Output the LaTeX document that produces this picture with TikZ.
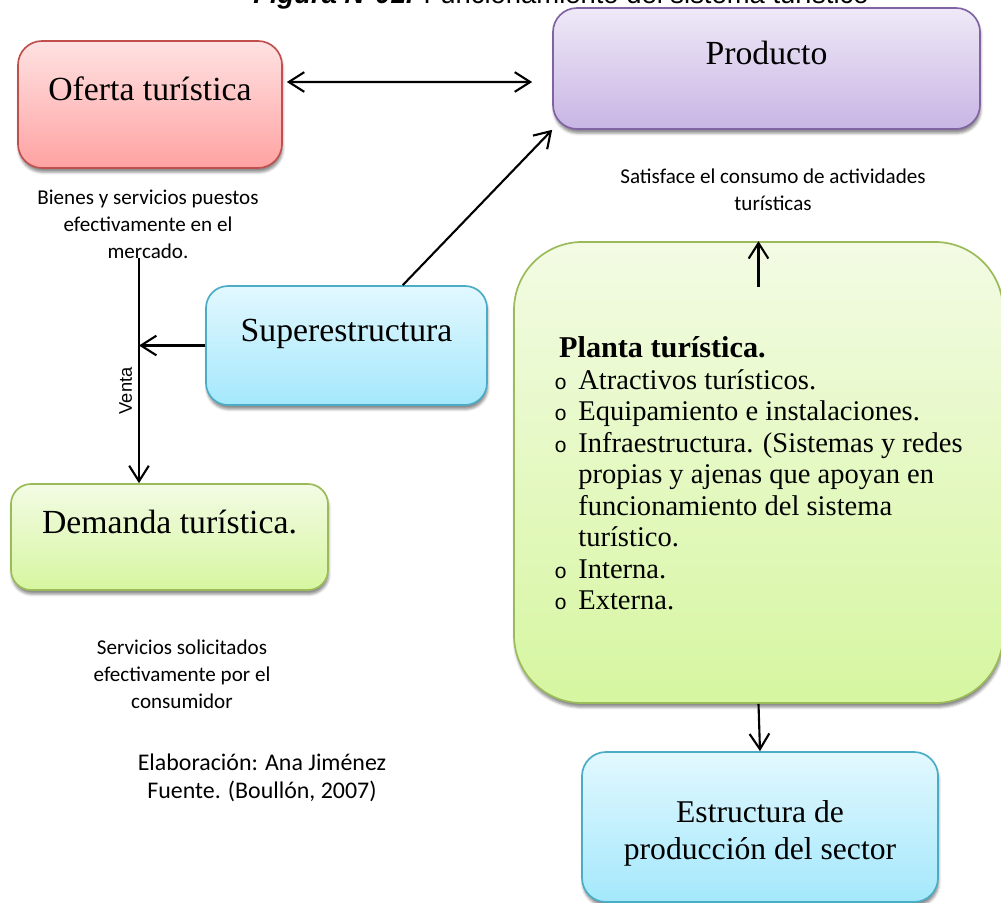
\documentclass[tikz,border=0pt]{standalone}
\usepackage{fontspec}
\setmainfont{Liberation Serif}
\setmonofont{Liberation Mono}
\newfontfamily\calibri{Carlito}
\newfontfamily\arial{Liberation Sans}
\usepackage{xcolor}
\usetikzlibrary{arrows.meta,calc,shadows.blur}

\definecolor{rojoborde}{RGB}{192,80,77}
\definecolor{rojoarriba}{RGB}{255,226,226}
\definecolor{rojoabajo}{RGB}{255,162,162}
\definecolor{moradoborde}{RGB}{128,100,162}
\definecolor{moradoarriba}{RGB}{239,233,247}
\definecolor{moradoabajo}{RGB}{200,181,228}
\definecolor{azulborde}{RGB}{75,172,198}
\definecolor{azularriba}{RGB}{226,248,254}
\definecolor{azulabajo}{RGB}{164,232,252}
\definecolor{verdeborde}{RGB}{155,187,89}
\definecolor{verdearriba}{RGB}{243,251,228}
\definecolor{verdeabajo}{RGB}{214,246,160}

\newcommand{\vineta}{{\ttfamily\fontsize{15}{15}\selectfont o}}

\tikzset{
	caja/.style={
			rectangle, rounded corners=0.6cm, line width=1.2pt, inner sep=0pt,
			align=center, font=\fontsize{24}{28}\selectfont,
			blur shadow={shadow xshift=0.6pt, shadow yshift=-3pt, shadow opacity=45}
		},
	arriba/.style={text height=0.65cm, text depth=0.85cm},
	roja/.style={caja, draw=rojoborde, top color=rojoarriba, bottom color=rojoabajo},
	morada/.style={caja, draw=moradoborde, top color=moradoarriba, bottom color=moradoabajo},
	azul/.style={caja, draw=azulborde, top color=azularriba, bottom color=azulabajo},
	verde/.style={caja, draw=verdeborde, top color=verdearriba, bottom color=verdeabajo},
	nota/.style={align=center, inner sep=0pt, font=\calibri\fontsize{15}{19.2}\selectfont},
	flecha/.style={line width=1.5pt, ->}
}

\begin{document}
\begin{tikzpicture}[>={Straight Barb[length=11pt,width=14pt]}]
		\useasboundingbox (0,0) rectangle (25.025,-22.575);
		% Title (cut at the top)
		\node[anchor=base west, inner sep=0pt, font=\arial\fontsize{19.5}{22}\selectfont] (titulo) at (6.325,-0.1)
		{\textbf{\textit{Figura N°01.}} Funcionamiento del sistema turístico};
		% Boxes
		\node[roja, arriba, minimum width=6.6cm, minimum height=3.175cm] (oferta) at (3.75,-2.6125) {Oferta turística};
		\node[morada, arriba, minimum width=10.675cm, minimum height=3.025cm] (producto) at (19.1625,-1.7125) {Producto};
		\node[azul, arriba, rounded corners=0.55cm, minimum width=7.025cm, minimum height=2.975cm] (super) at (8.6625,-8.6375) {Superestructura};
		\node[verde, arriba, rounded corners=0.5cm, minimum width=7.925cm, minimum height=2.65cm] (demanda) at (4.2375,-13.425) {Demanda turística.};
		\node[verde, rounded corners=1.7cm, minimum width=12.225cm, minimum height=11.525cm, font=\fontsize{20.3}{22.4}\selectfont] (planta) at (18.9625,-11.8125)
		{\begin{tabular}{@{}p{0.6cm}@{}l@{}}
				\multicolumn{2}{@{\hspace{0.12cm}}l@{}}{\rule{0pt}{0.8cm}\fontsize{21.5}{22.4}\selectfont\textbf{Planta turística.}} \\
				\vineta & Atractivos turísticos.                                                              \\
				\vineta & Equipamiento e instalaciones.                                                       \\
				\vineta & Infraestructura. (Sistemas y redes                                                  \\
				        & propias y ajenas que apoyan en                                                      \\
				        & funcionamiento del sistema                                                          \\
				        & turístico.                                                                          \\
				\vineta & Interna.                                                                            \\
				\vineta & Externa.
			\end{tabular}};
		\node[azul, minimum width=8.9cm, minimum height=3.75cm, font=\fontsize{22.5}{26.5}\selectfont] (estructura) at (19,-20.675)
		{\rule{0pt}{0.85cm}Estructura de\\producción del sector};
		% Notes
		\node[nota] (bienes) at (3.7,-5.6) {Bienes y servicios puestos\\efectivamente en el\\mercado.};
		\node[nota] (satisface) at (19.325,-4.75) {Satisface el consumo de actividades\\turísticas};
		\node[nota] (servicios) at (4.55,-16.85) {Servicios solicitados\\efectivamente por el\\consumidor};
		\node[nota, font=\calibri\fontsize{17}{19.6}\selectfont] (elaboracion) at (6.55,-19.45) {Elaboración: Ana Jiménez\\Fuente. (Boullón, 2007)};
		% Arrows
		\coordinate (ventaTop) at (3.475,-6.45);
		\coordinate (plantaUp) at ($(planta.north)+(0,-1.15)$);
		\draw[line width=1.5pt, <->] ($(oferta.east)+(0.1,0.5625)$) -- ($(producto.west)+(-0.5,-0.3375)$);
		\draw[flecha] (super.47) -- (producto.south west);
		\draw[flecha] (super.west) -- (super.west -| ventaTop);
		\draw[flecha] (ventaTop) -- (ventaTop |- demanda.north)
		node[pos=0.59, left=0.15cm, rotate=90, anchor=south, inner sep=0pt, font=\arial\fontsize{13}{15}\selectfont] (venta) {Venta};
		\draw[flecha] (plantaUp) -- (planta.north);
		\draw[flecha] (planta.south) -- (estructura.north);
	\end{tikzpicture}
\end{document}
